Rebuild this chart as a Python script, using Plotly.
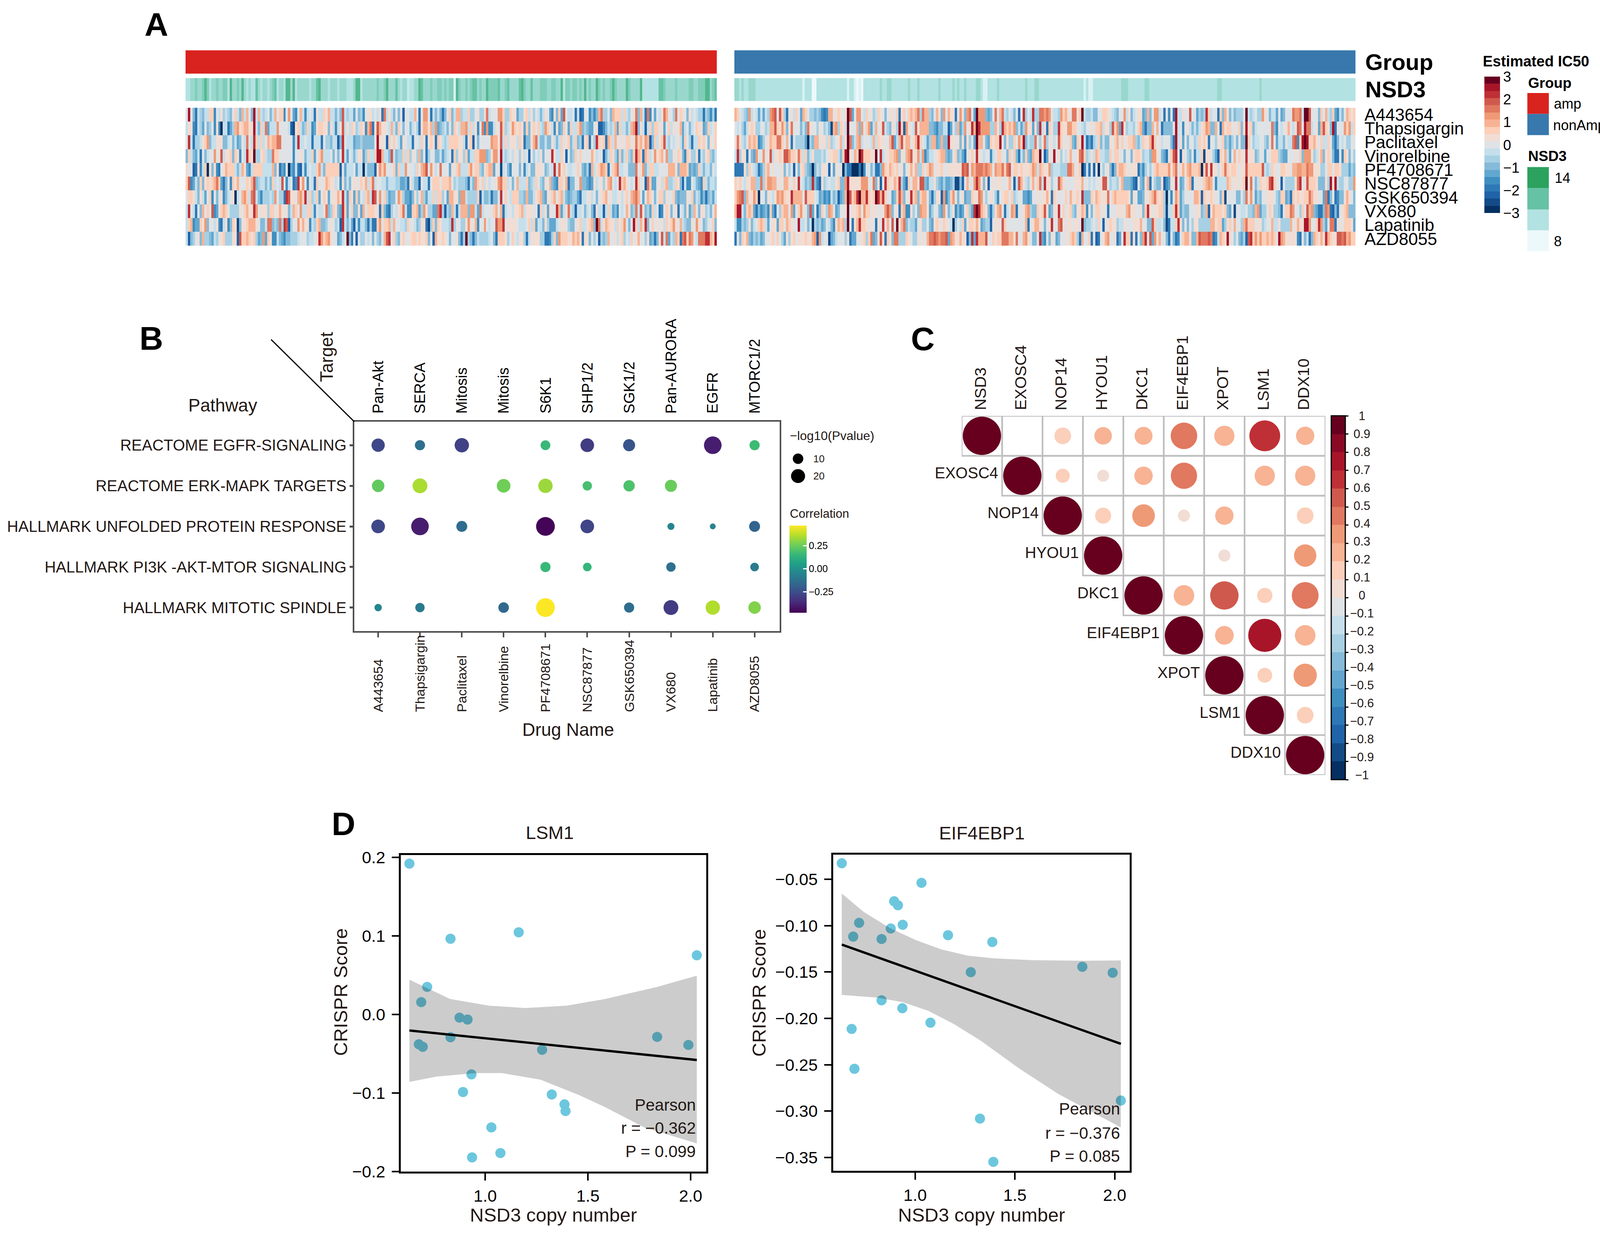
import plotly.graph_objects as go

W, H = 4128, 3168
FONT = "Liberation Sans"
INK = "#231815"

# ---- panel A ----
DRUGS = ["A443654", "Thapsigargin", "Paclitaxel", "Vinorelbine", "PF4708671",
         "NSC87877", "GSK650394", "VX680", "Lapatinib", "AZD8055"]
N_LEFT, N_RIGHT = 228, 265

# one letter per cell, a = -3 ... s = +3 on the 19 colour steps of the key
HEAT_LEFT = [
    "jrjgdihgii llejikhihg jligmimjgr imihijgimj llejnjfejm ieijidkiil kmiigigpih iifjghejkk ijikdoikig jgjcjjiimj djnnjdigig dgjlgimmhi ilhhjkhhko ijjjnnlhhl kkfhhklikh jigikjfekg lfpjiijdic djjegegmoh hjgmlllili hjkogmidoe jfjikomjjh ojlkjgkiji hhdhgehdfh",
    "ikkedihfjg hjekeaiidf hmnklmmkkr igliofiiin jjjjicbkli ghliefkllk kgkieikpik ilkhilkemo dkpmkkjimi gljgjjgijh dkmmkmhnfg higjglkimm nilikejoen eeikjplhik nlklkflgkl jlihnlkiek fgljfliiln ghgffjkcce gihimfliig imnrgkicil hlljkfjlik jkmfijgijl kkfglijlgi",
    "jqidhhikln giikkkggij gifgjiojiq lilijmlmmo ojjjjjeiqi ijiidiiidj hhgiicgqji iifgghgggg gjrkkjcljl jifkjiidjj iljdklkdlk ihillllkki dklcjgjjjj jnmmkpilik kkilkdggkm oiggiggkig iljklgilgh dkldjhqlkl dmlimkjkjl ljkolmknmc gliklpihji jkifljhdii lkljgkjlkj",
    "gligfidjgi jjnjkpikkl glkejiqlks hhklihholl jjjjjjejjk jgiilfjlni iijgjgjqif jigikkfhli ilrrmiigpi ghhlilhkjh mgjdhjjggi fhijdlhkkh lfiillnnng hknnjrihij ikjhkijcjh jikgjjjqki iljcjghljl jjjjmkijjc gilkhflgil hglqmldmli jnklmjnhhk jlkgelkhhk dihklhgiig",
    "kjjcdkeila kgkedjkmll ligimkfeil llliiiimgk dfejafeidc ieijiilnig llllllcjfi iijfiiaigg gcknlnjjjl gliinjjjil jmnpjnkijo jjjfkjlmii ilnkllhgkl mmfjjbijge jjjgjeijgg kkkjghjiqj okljiijjlj gfhdmiklnm ldjlmoiijj gggojkngil liijjjjmmm kgmmmlfgfg ligiigjigh",
    "lpefiglgkl klmolfdgje lkmjjjlkmp ghiigiglij ipjeijdeqk njejidljjk mlkkijekgi gjkkjlkmil oijjiigiii hhffgdkigg cjiidjlllj lllmjhihhh gdignljlik ijjknollij gjmiiilghi ljhgkjmgfe lljmdggjjn ggfefkijkh kmnjijqlmk jijqljjcol ffjkilmhhi lkgcieejig feligiihhl",
    "jllkigkifj lejgjkegij kaijmnliop igehhhihnj hhdqpkkjmn lqilhilfjl kfjkkmkqif lkflgjilmi qpjnjlhfgg jnlhffegkh jmhfiilill hjfmmkkgnn ihhhhlcigg hdggjqjlji lllhhgmggi klmgfkjlmj lmigfghhfd iijkijgjkl mjkiijkikl jmnomjfjml jgjllhkjjl gfgggkjlgi hegdghfigj",
    "iqjidjgmjl jpefjlmljh hhhkjlmkkq njkkkhlljk mkjkgimljn iilliejiik oghlkgfqlf jlggkfmjll lkkdlgedhj ikloieellm fhnkhhffoq hchgmidimm mgnnifoijj jjlmjmdijj ikklmikkkj jdlikfkjjq mfikoihcii jgijgdkiic ilifgejijm kghoipkghf lijdejlkgj kdjigkfhmj gkkhigjmih",
    "ilmefflkng jjikedikeg lkbgkklmmm kjggiooghg ohqpchjjnk mkkeihlmgg hjkjhicqig ifcieiigdh ddlnjllmim jjiihljjig hkkdbhlglk iiihqhjjhh knkjmejjnj ijjpnnqjkk kkjiiijlil fiigkhfffi jkkjhggjkl iiklmgsoik mlkkiljlnj gjrlimkqgj ljkjkilkln kjmihggkjn kjghjjlggh",
    "icghjkgmhh gfihjklhhh kkcpllmlkl hfgnflkeei gfegghhhij jjhiijkqnl mnkjjfgijs gdjcjhhjij gjhgjmpqjl hgkljjkllk lkklgjcmkk lkjgjjkgdh shgdgihhhh ijgdlllkhj ljikkhdikk kkhhddehlg nlllkkmlmk dkkgjhjchg hmjjkiklhj iljkmjjhkf gdgkpiofih mldoplonji oooqqmlrlo",
]
HEAT_RIGHT = [
    "mljihgniji fifihnopjp lhdjkiljfm ljhhghgede mmjklkjksp fjnnjiljkh ilkjgjkkjl dkljlmlmoh ommhgjmkgn jmkkdjnkgn ojfsnnngfg jojmoihjig jdjqhjiqhh oononjiihn lmkjooklsi hhiggjjllk jihgjjnikg ijkkfgmgjn nijdjejdri ikjjpjjfhg hqlijjdlgm kgighhhjsi hijhhnkjgi ifjfgjjjon noisspjjjg ljmihlfeig jmlklkkjk",
    "jijhfiklkh hjjhimmplk nlgkojjjgi gokjjhkjhi gbmnhlkisj jjmgnjlnfi mjkpihgkjh rlcnkjipkm mmmggfeggi icfjhmfhnj kqmsqnnnnh hmkhqmlmln gifhnkkfkg qikdlkhhql kknnlljjih jjkjllmikk hplnfqkhii hjlmfdggmj mjdggggjri jejkigigik lnmggmjdmk lljkjlgkrk lgijjjjjjo gejijkmjik pojrooijkf mplkgrdjjj nlnilkmkk",
    "kokihjmlml efhjkmlloo ljmjdjhhhh fahgmmjkki lhijkmikso gimnijjjim ilkkjjmpfi mpkmmjkmql jifhmmfgmg grkkjkgkfk hjfsmmjgfl kllrjgkhhl jnlrgihhoj hkohjkijpl jkjlgflkri dfdhilgigg kjlmjljkll mhgilkkmql jkijjjgdri kfjgjjhilk lkdjjhkjlg hfhjgjggsl jhiijjhgjo jfiigjiiop elrsrllmkj liiljfdgji jhhjjkpkl",
    "iqhkkdjgfn jjnjkpikkl kppnllkoli lgikhhhihj kklliglrsk jmlsqlllkk sjqijkllmn gkjmnpkkni negiijklmm gfgjlghfdj kljqkjijje ijlljjgljl gdiglgfmll sjcfkjrjkh jikmjjkopl hikimliihh ljlljjgjjg kllkhiignn kjgfdjlpqj ckjhgjeiil bkkjhfclkm ifjmjlkjqk kkghjjfjjl llhgffjjjk jlgnnnkhik mgkljgddje lkgjhhpih",
    "ddddkhljih dfhlmjkjjj kgjhjcjgkl hgfagihkkj cjfkjjagdd aaadaejjgi ddgnlkmlkl jkgjkmkmhh ljlnmjkklj jkkkkkkpop jnmooononm jnmmolopjl lklkkklnmi mlkknhiiih hhoomjklad idjcjajhjk gdglmmlkjk kkdgehjhjl mllllnkmoj kmkmnlllma lpkqkkiklo lkllkjkkpl lllllpihil kjjllkkjmm nnmmonnkkk hhjlljllkh hhfhgjkkk",
    "lkljikkmmh hohlnnmmjk jmmkjljqji ghgqgeckhi jiiklggnrk kkkknnnjjo gkcjqlkkml qhfdljmmkp pgfiikhgfh ffghbbgcjm jjnqnkgkcj kjkkjjkmjc ipmkihkmjl oiqkkhjjpm kjjjjkkkmj jijijjkppj hiihkmgggf dcjgfkmdjh ggkcefkjqj fgjlmdjjkj lmnmjeiiii mljkkjklsk ojgilkklpq ljjcjhhhhk oqjkplllkg ggkhrkrihh jjhhngkkg",
    "lnopgmkknl ajjgkjiknm nlkkqmmmmj pllljifgef eighcfgmsp lmqsmmqlkl sqmqljjfgl pmgjkqlmgl mmjgdhkkcn eglnjgjkfg glkkonjhjk jhejklljlh ijjffefjjk jkkmkdlkjj jljmkkljqg gglkmlkkko jlmlllllkf kjffgkjlmo lklhaiejnl fhjjjjmmlc lkklkjjglb jjjjggjhok njfhgjjkkk jhgllfgdlk lkkllomkkj jfodgjdegg kmkjgggmk",
    "mrriglmlfd gefgelfdjh lmmjnfjlnk jgpfjdgljh nmjfgjjksj kklmjnlljk kjjknpngjk dlmeekhjgn mmkfhjjgfn jgikegefjl hfqsqmlkgd hkmnjdijnm djjkmnhggl klpkfgkkqj ljklhgkkml ejgjlljkjd jjjkkkjmnk kjjkglqkjk kllhbiilql fhggjjjkkg hmckmlllkl gfjbjjiijh hgmnfhhjlk hhgdjllonj jhljpmngfd dgondcgdjk lmgggjjlm",
    "ieehghkgij lmlifjkkfl ljmlkjjrii jgiahghfgj igekmlmhsj dkmqllkjkj dkjqkmjpjs kmogihhfjk hhjgfklkjl kjiahjilfj llkmkfghhc jkkjpljjjj jjjjmdjkmm kjgjkqjjop kjkkjkkjsg hhijiljcjk lkkhiikjjj kkkmjjggpl iijgbdiilq kgjgjhkkhh hhhmmkllfh kljmjjhmol lljkkhijjm iikhhhhmjk mkkrrnjjlq nhfjoodjkj lllkfjjjl",
    "djglkmgfhg hfgjjkljlj hfkhkljkkk lkkmncnijj bfgijjjhkd ffjjklhlof gkpkdlkgoo hhhlkjhhkj kjmooponoo pfnmkkmkkc gqfqmmmpjj lkllooommk ojjmnkjggj qfejgkjfgj jkjlmlhdmj jldjcdjkmn jjkdfjqlld kdjgnqjpfn kmjjgdjgde jlmmkggmpo oopodeimlk rkjhjgfhcp qlnlnllmlm ljrnmkkkkk edjgidgmlk mkqmlkkppo pmnlljfdk",
]
# 0 = light ... 9 = dark, copy number strip
NSD3_LEFT = ("3344544575 3445445537 4454743433 6434434563 4437747344 4443446744 4344434443 3347734444 "
             "4454457444 6434423344 7644454455 4545517544 5456645447 5555644564 4446754464 4455544554 "
             "4735545545 4745447545 4457544447 5444473333 3336654444 5444445544 5557745667")
NSD3_RIGHT = ("4434334443 3333333333 3333333331 3330033333 3333333313 3101033333 3343344333 3333433343 "
              "3333333433 3334343343 3334431133 3343333333 3333433344 3333333333 3333333331 3113333333 "
              "3333344433 3333344333 3333333333 3333333333 3333334433 3333333333 3333433333 3333333333 "
              "3333333333 3333333333 3333333334")
HEAT_COLORS = ["#053061", "#134b87", "#1f63a8", "#2e78b5", "#3f8ec0", "#62a7d0", "#85bbd9", "#a7d0e4",
               "#c5dfec", "#dfe3e6", "#f1ddd4", "#fbcfb9", "#f7b394", "#ef9a76", "#e17860", "#d0594d",
               "#be3036", "#a81529", "#67001f"]
NSD3_SCALE = ["#edf8fb", "#b2e2e2", "#66c2a4", "#2ca25f"]
HEAT_TICKS = [-3, -2, -1, 0, 1, 2, 3]

# ---- panel B ----
PATHWAYS = ["REACTOME EGFR-SIGNALING", "REACTOME ERK-MAPK TARGETS", "HALLMARK UNFOLDED PROTEIN RESPONSE",
            "HALLMARK PI3K -AKT-MTOR SIGNALING", "HALLMARK MITOTIC SPINDLE"]
TARGETS = ["Pan-Akt", "SERCA", "Mitosis", "Mitosis", "S6K1", "SHP1/2", "SGK1/2", "Pan-AURORA", "EGFR", "MTORC1/2"]
BUB_ROW = [0, 0, 0, 0, 0, 0, 0, 0,
           1, 1, 1, 1, 1, 1, 1,
           2, 2, 2, 2, 2, 2, 2, 2,
           3, 3, 3, 3,
           4, 4, 4, 4, 4, 4, 4, 4]
BUB_COL = [0, 1, 2, 4, 5, 6, 8, 9,
           0, 1, 3, 4, 5, 6, 7,
           0, 1, 2, 4, 5, 7, 8, 9,
           4, 5, 7, 9,
           0, 1, 3, 4, 6, 7, 8, 9]
BUB_LOGP = [17.5, 9.1, 21, 8.2, 18.7, 14, 33, 9.1,
            15.2, 22.6, 18.7, 21, 7.3, 12, 14,
            18.7, 33, 11, 37.8, 18.7, 2.9, 1.1, 11,
            9.1, 5.7, 7.3, 5.7,
            3.5, 7.3, 10, 37.8, 9.1, 22.6, 21, 15.2]
BUB_CORR = [-0.27, -0.13, -0.29, 0.16, -0.31, -0.23, -0.40, 0.17,
            0.24, 0.35, 0.26, 0.33, 0.19, 0.20, 0.25,
            -0.27, -0.40, -0.14, -0.47, -0.28, -0.05, -0.05, -0.17,
            0.16, 0.15, -0.13, -0.09,
            -0.04, -0.09, -0.16, 0.47, -0.14, -0.31, 0.36, 0.29]

# ---- panel C ----
GENES = ["NSD3", "EXOSC4", "NOP14", "HYOU1", "DKC1", "EIF4EBP1", "XPOT", "LSM1", "DDX10"]
CORR_ROW = [0, 0, 0, 0, 0, 0, 0, 0,
            1, 1, 1, 1, 1, 1, 1,
            2, 2, 2, 2, 2, 2,
            3, 3, 3,
            4, 4, 4, 4, 4,
            5, 5, 5, 5,
            6, 6, 6,
            7, 7,
            8]
CORR_COL = [0, 2, 3, 4, 5, 6, 7, 8,
            1, 2, 3, 4, 5, 7, 8,
            2, 3, 4, 5, 6, 8,
            3, 6, 8,
            4, 5, 6, 7, 8,
            5, 6, 7, 8,
            6, 7, 8,
            7, 8,
            8]
CORR_VAL = [1, 0.19, 0.21, 0.22, 0.48, 0.28, 0.65, 0.23,
            1, 0.135, 0.099, 0.23, 0.47, 0.28, 0.28,
            1, 0.175, 0.35, 0.099, 0.23, 0.19,
            1, 0.099, 0.34,
            1, 0.29, 0.55, 0.16, 0.49,
            1, 0.24, 0.75, 0.29,
            1, 0.15, 0.37,
            1, 0.19,
            1]
CORR_COLORS = ["#053061", "#134b87", "#1f63a8", "#2e78b5", "#3f8ec0", "#62a7d0", "#85bbd9", "#a7d0e4", "#c5dfec", "#dfe3e6",
               "#f1ddd4", "#fbcfb9", "#f7b394", "#ef9a76", "#e17860", "#d0594d", "#be3036", "#a81529", "#8a0a26", "#67001f"]
CORR_TICKS = [1, 0.9, 0.8, 0.7, 0.6, 0.5, 0.4, 0.3, 0.2, 0.1, 0, -0.1, -0.2, -0.3, -0.4, -0.5, -0.6, -0.7, -0.8, -0.9, -1]

# ---- panel D ----
CN = [0.631, 0.831, 1.163, 2.03, 0.7175, 0.6885, 0.875, 0.914, 0.831, 0.677, 0.696,
      1.277, 1.837, 1.989, 0.933, 0.892, 1.324, 1.386, 1.391, 1.03, 1.074, 0.936]
LSM1_Y = [0.192, 0.0964, 0.1046, 0.0753, 0.0351, 0.0157, -0.0041, -0.0065, -0.029, -0.038, -0.0412,
          -0.045, -0.0286, -0.0388, -0.0763, -0.0988, -0.1019, -0.1145, -0.123, -0.1438, -0.1765, -0.182]
LSM1_LINE_X = [0.631, 2.03]
LSM1_LINE_Y = [-0.0204, -0.058]
LSM1_UP_X = [0.631, 0.8285, 1.018, 1.195, 1.396, 1.585, 1.837, 2.03]
LSM1_UP_Y = [0.0443, 0.0198, 0.0112, 0.0082, 0.0112, 0.0198, 0.0351, 0.0494]
LSM1_LO_X = [0.631, 0.765, 0.955, 1.081, 1.27, 1.459, 1.585, 1.774, 2.03]
LSM1_LO_Y = [-0.0859, -0.079, -0.0746, -0.0746, -0.0831, -0.1029, -0.1182, -0.1438, -0.1642]

EIF_X = [0.6325, 1.032, 0.895, 0.914, 0.7195, 0.938, 0.878, 0.69, 0.832, 1.165, 1.387,
         1.279, 1.838, 1.99, 0.832, 0.936, 1.077, 0.682, 0.696, 2.031, 1.325, 1.392]
EIF_Y = [-0.0327, -0.0538, -0.0737, -0.078, -0.097, -0.0991, -0.1031, -0.1118, -0.1144, -0.1103, -0.1176,
         -0.1502, -0.1444, -0.1508, -0.1805, -0.1891, -0.2047, -0.2114, -0.2544, -0.2887, -0.3081, -0.3548]
EIF_LINE_X = [0.6325, 2.031]
EIF_LINE_Y = [-0.1204, -0.2275]
EIF_UP_X = [0.6325, 0.743, 0.873, 1.003, 1.132, 1.262, 1.392, 1.587, 1.847, 2.031]
EIF_UP_Y = [-0.0653, -0.0852, -0.1025, -0.1155, -0.1256, -0.1323, -0.1352, -0.1372, -0.1378, -0.1375]
EIF_LO_X = [0.6325, 0.808, 0.938, 1.068, 1.197, 1.327, 1.522, 1.717, 2.031]
EIF_LO_Y = [-0.1747, -0.1776, -0.1825, -0.192, -0.2065, -0.2238, -0.2541, -0.2815, -0.3176]


def px(x):
    return x / W


def py(y):
    return 1 - y / H


def dom_x(a, b):
    return [px(a), px(b)]


def dom_y(top, bottom):
    return [py(bottom), py(top)]


def note(text, x, y, size, anchor="center", vanchor="middle", angle=0, bold=False, color="black", xref="paper", yref="paper"):
    # x and y are page pixels on the paper refs, data values on an axis ref
    if bold:
        text = "<b>" + text + "</b>"
    if xref == "paper":
        x = px(x)
    if yref == "paper":
        y = py(y)
    return dict(text=text, x=x, y=y, xref=xref, yref=yref, xanchor=anchor, yanchor=vanchor, textangle=angle,
                showarrow=False, borderpad=0, font=dict(family=FONT, size=size, color=color))


def stepped(colors):
    n = len(colors)
    scale = []
    for i, c in enumerate(colors):
        scale.append([i / n, c])
        scale.append([(i + 1) / n, c])
    return scale


def heat_matrix(rows, n):
    z = []
    for row in rows:
        cells = row.replace(" ", "")[:n].ljust(n, "j")
        z.append([-3 + (ord(c) - ord("a") + 0.5) * 6 / 19 for c in cells])
    return z


def nsd3_values(text, n):
    cells = text.replace(" ", "")[:n].ljust(n, "3")
    return [[8 + int(c) * 2 / 3 for c in cells]]


fig = go.Figure()
notes = []
shapes = []

# heatmap panel
bu_gn = [[i / 3, c] for i, c in enumerate(NSD3_SCALE)]
for xa, n, group_color, rows, strip in [("x", N_LEFT, "#d9231f", HEAT_LEFT, NSD3_LEFT),
                                        ("x2", N_RIGHT, "#3878ad", HEAT_RIGHT, NSD3_RIGHT)]:
    fig.add_trace(go.Heatmap(z=[[0] * n], xaxis=xa, yaxis="y", showscale=False, hoverinfo="skip",
                             colorscale=[[0, group_color], [1, group_color]]))
    fig.add_trace(go.Heatmap(z=nsd3_values(strip, n), xaxis=xa, yaxis="y2", showscale=False, hoverinfo="skip",
                             colorscale=bu_gn, zmin=8, zmax=14))
    fig.add_trace(go.Heatmap(z=heat_matrix(rows, n), xaxis=xa, yaxis="y3", hoverinfo="skip",
                             colorscale=stepped(HEAT_COLORS), zmin=-3, zmax=3, showscale=xa == "x",
                             colorbar=dict(x=px(3800), xanchor="left", y=py(181.5), yanchor="top", xpad=0, ypad=0,
                                           len=348.5, lenmode="pixels", thickness=40, thicknessmode="pixels",
                                           outlinewidth=0, ticks="", tickvals=HEAT_TICKS,
                                           tickfont=dict(family=FONT, size=37, color="black"))))
notes.append(note("Group", 3494, 143, 58, "left", bold=True))
notes.append(note("NSD3", 3494, 214, 58, "left", bold=True))
for i, d in enumerate(DRUGS):
    notes.append(note(d, 3492, i, 44, "left", yref="y3"))
notes.append(note("Estimated IC50", 3795, 142, 38, "left", bold=True))
notes.append(note("Group", 3911, 198, 37, "left", bold=True))
notes.append(note("amp", 3977, 252, 36, "left"))
notes.append(note("nonAmp", 3975, 307, 36, "left"))
notes.append(note("NSD3", 3911, 388, 37, "left", bold=True))
notes.append(note("14", 3979, 444, 36, "left"))
notes.append(note("8", 3977, 608, 36, "left"))
for top, bottom, c in [(224, 278, "#d9231f"), (278, 333, "#3878ad"), (416, 470, NSD3_SCALE[3]),
                       (470, 526, NSD3_SCALE[2]), (526, 580, NSD3_SCALE[1]), (580, 634, NSD3_SCALE[0])]:
    shapes.append(dict(type="rect", xref="paper", yref="paper", x0=px(3910), x1=px(3965), y0=py(bottom), y1=py(top),
                       fillcolor=c, line_width=0))

# bubble panel
fig.add_trace(go.Scatter(x=BUB_COL, y=BUB_ROW, mode="markers", xaxis="x3", yaxis="y4", hoverinfo="skip",
                         marker=dict(size=[(162 + 56.7 * p) ** 0.5 for p in BUB_LOGP], color=BUB_CORR, opacity=1,
                                     colorscale="Viridis", cmin=-0.478, cmax=0.472, line_width=0,
                                     colorbar=dict(x=px(2021), xanchor="left", y=py(1345), yanchor="top", xpad=0, ypad=0,
                                                   len=223, lenmode="pixels", thickness=44, thicknessmode="pixels",
                                                   outlinewidth=0, ticks="inside", ticklen=9, tickwidth=3, tickcolor="white",
                                                   tickvals=[-0.25, 0, 0.25], ticktext=["\u22120.25", "0.00", "0.25"],
                                                   tickfont=dict(family=FONT, size=25, color="black")))))
for i, t in enumerate(TARGETS):
    notes.append(note(t, i, 1056, 38, "center", "bottom", -90, color="black", xref="x3"))
for i, d in enumerate(DRUGS):
    notes.append(note(d, i, 1830, 34, "center", "bottom", -90, color=INK, xref="x3"))
notes.append(note("Pathway", 570, 1033, 46, color=INK))
notes.append(note("Target", 836, 974, 46, "center", "bottom", -90, color=INK))
notes.append(note("Drug Name", 1454, 1874, 46, color=INK))
notes.append(note("\u2212log10(Pvalue)", 2021, 1112, 32, "left", color=INK))
notes.append(note("10", 2081, 1172, 26, "left", color=INK))
notes.append(note("20", 2081, 1217, 26, "left", color=INK))
notes.append(note("Correlation", 2021, 1315, 31, "left", color=INK))
shapes.append(dict(type="line", xref="paper", yref="paper", x0=px(694), y0=py(863), x1=px(907), y1=py(1076),
                   line=dict(color="black", width=3)))
for cy, r in [(1172, 13.5), (1217, 18)]:
    shapes.append(dict(type="circle", xref="paper", yref="paper", x0=px(2043 - r), x1=px(2043 + r),
                       y0=py(cy + r), y1=py(cy - r), fillcolor="black", line_width=0))

# correlation panel
for i in range(len(GENES)):
    for j in range(i, len(GENES)):
        shapes.append(dict(type="rect", xref="x4", yref="y5", x0=j - 0.5, x1=j + 0.5, y0=i - 0.5, y1=i + 0.5,
                           line=dict(color="#bebebe", width=4), layer="below"))
fig.add_trace(go.Scatter(x=CORR_COL, y=CORR_ROW, mode="markers", xaxis="x4", yaxis="y5", hoverinfo="skip",
                         marker=dict(size=[98 * v ** 0.5 for v in CORR_VAL], color=CORR_VAL, cmin=-1, cmax=1, opacity=1,
                                     colorscale=stepped(CORR_COLORS), line_width=0,
                                     colorbar=dict(x=px(3408), xanchor="left", y=py(1061), yanchor="top", xpad=0, ypad=0,
                                                   len=931, lenmode="pixels", thickness=36, thicknessmode="pixels",
                                                   outlinewidth=3, outlinecolor="black", ticks="outside", ticklen=7,
                                                   tickwidth=3, tickcolor="black", tickvals=CORR_TICKS,
                                                   showticklabels=False))))
for i, g in enumerate(GENES):
    notes.append(note(g, i - 0.04, 1047, 41, "center", "bottom", -90, color=INK, xref="x4"))
    notes.append(note(g, i - 0.59, i - 0.07, 40, "right", color=INK, xref="x4", yref="y5"))
for v in CORR_TICKS:
    label = str(v).replace("-", "\u2212")
    notes.append(note(label, 3486, 1061 + (1 - v) / 2 * 931, 31, color=INK))


# scatter panels
def add_fit(x, y, up_x, up_y, lo_x, lo_y, line_x, line_y, xa, ya):
    fig.add_trace(go.Scatter(x=x, y=y, mode="markers", xaxis=xa, yaxis=ya, hoverinfo="skip",
                             marker=dict(size=26, color="#6cc7de", line_width=0)))
    fig.add_trace(go.Scatter(x=up_x + lo_x[::-1], y=up_y + lo_y[::-1], mode="lines", fill="toself", xaxis=xa, yaxis=ya,
                             fillcolor="rgba(0,0,0,0.2)", line_width=0, hoverinfo="skip"))
    fig.add_trace(go.Scatter(x=line_x, y=line_y, mode="lines", xaxis=xa, yaxis=ya, hoverinfo="skip",
                             line=dict(color="black", width=6)))


add_fit(CN, LSM1_Y, LSM1_UP_X, LSM1_UP_Y, LSM1_LO_X, LSM1_LO_Y, LSM1_LINE_X, LSM1_LINE_Y, "x5", "y6")
add_fit(EIF_X, EIF_Y, EIF_UP_X, EIF_UP_Y, EIF_LO_X, EIF_LO_Y, EIF_LINE_X, EIF_LINE_Y, "x6", "y7")

notes.append(note("LSM1", 1407, 2141, 47, color=INK))
notes.append(note("EIF4EBP1", 2513, 2142, 47, color=INK))
for tx, ty, yt in [(1417, 872, 2555), (2513, 1943, 2557)]:
    notes.append(note("NSD3 copy number", tx, 3133, 49, color=INK))
    notes.append(note("CRISPR Score", ty, yt, 49, angle=-90, color=INK))
for text, y in [("Pearson", 2847), ("r = \u22120.362", 2907), ("P = 0.099", 2968)]:
    notes.append(note(text, 1782, y, 42, "right", color=INK))
for text, y in [("Pearson", 2857), ("r = \u22120.376", 2920), ("P = 0.085", 2980)]:
    notes.append(note(text, 2868, y, 42, "right", color=INK))

# panel letters
for letter, x, y in [("A", 369, 47), ("B", 356, 860), ("C", 2331, 861), ("D", 848, 2118)]:
    notes.append(note(letter, x, y, 84, "left", bold=True))

hidden = dict(visible=False, showgrid=False, zeroline=False)
tick_font = dict(family=FONT, size=43, color="black")


def scatter_axis(domain, rng, tickvals, anchor, ticktext, standoff):
    return dict(domain=domain, range=rng, tickvals=tickvals, ticktext=ticktext, anchor=anchor, showgrid=False, zeroline=False,
                showline=True, mirror=True, linecolor="black", linewidth=5, ticks="outside", ticklen=18, tickwidth=4,
                tickcolor="black", tickfont=tick_font, ticklabelstandoff=standoff)


fig.update_layout(
    width=W, height=H, autosize=False, margin=dict(l=0, r=0, t=0, b=0), showlegend=False,
    paper_bgcolor="white", plot_bgcolor="white", font=dict(family=FONT),
    annotations=notes, shapes=shapes,
    xaxis=dict(hidden, domain=dom_x(475, 1835), range=[-0.5, N_LEFT - 0.5]),
    xaxis2=dict(hidden, domain=dom_x(1880, 3470), range=[-0.5, N_RIGHT - 0.5]),
    yaxis=dict(hidden, domain=dom_y(113, 174), range=[-0.5, 0.5]),
    yaxis2=dict(hidden, domain=dom_y(185, 245), range=[-0.5, 0.5]),
    yaxis3=dict(hidden, domain=dom_y(262, 620), range=[9.5, -0.5]),
    xaxis3=dict(domain=dom_x(907, 1996), range=[-0.57, 9.6], anchor="y4", tickvals=list(range(10)), showticklabels=False,
                showgrid=False, zeroline=False, showline=True, mirror=True, linecolor="#4d4d4d", linewidth=4,
                ticks="outside", ticklen=12, tickwidth=4, tickcolor="#4d4d4d"),
    yaxis4=dict(domain=dom_y(1076, 1619), range=[4.58, -0.58], anchor="x3", tickvals=list(range(5)), ticktext=PATHWAYS,
                showgrid=False, zeroline=False, showline=True, mirror=True, linecolor="#4d4d4d", linewidth=4,
                ticks="outside", ticklen=8, tickwidth=5, tickcolor="#4d4d4d",
                tickfont=dict(family=FONT, size=40, color=INK)),
    xaxis4=dict(hidden, domain=dom_x(2462, 3393), range=[-0.5, 8.5]),
    yaxis5=dict(hidden, domain=dom_y(1061, 1992), range=[8.5, -0.5]),
    xaxis5=scatter_axis(dom_x(1026, 1808), [0.589, 2.076], [1.0, 1.5, 2.0], "y6", ["1.0", "1.5", "2.0"], 2),
    yaxis6=scatter_axis(dom_y(2199, 3020), [-0.2, 0.2032], [-0.2, -0.1, 0, 0.1, 0.2], "x5",
                        ["\u22120.2", "\u22120.1", "0.0", "0.1", "0.2"], 8),
    xaxis6=scatter_axis(dom_x(2133, 2892), [0.5896, 2.0753], [1.0, 1.5, 2.0], "y7", ["1.0", "1.5", "2.0"], 2),
    yaxis7=scatter_axis(dom_y(2198, 3018), [-0.3644, -0.0232], [-0.35, -0.3, -0.25, -0.2, -0.15, -0.1, -0.05], "x6",
                        ["\u22120.35", "\u22120.30", "\u22120.25", "\u22120.20", "\u22120.15", "\u22120.10", "\u22120.05"], 8),
)

fig.write_html("out.html", post_script="document.body.style.margin='0';", config={"displayModeBar": False})
